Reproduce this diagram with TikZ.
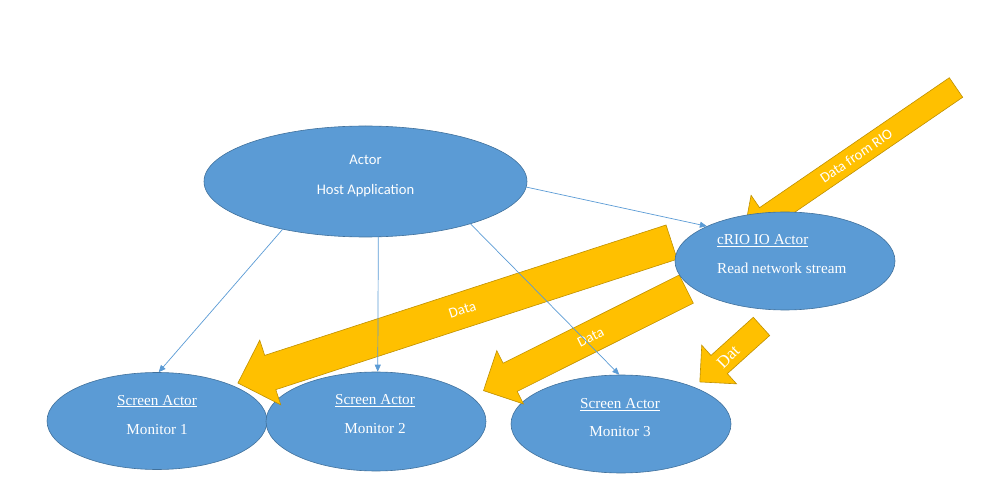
\documentclass[tikz,border=0pt]{standalone}
\usepackage{fontspec}
\setmainfont{Liberation Serif}
\newfontfamily\calibrifont{Carlito}
\usetikzlibrary{arrows.meta, shapes.geometric}
\definecolor{actorblue}{HTML}{5B9BD5}
\definecolor{actoredge}{HTML}{41719C}
\definecolor{datayellow}{HTML}{FFC000}
\definecolor{dataedge}{HTML}{BF9000}

\begin{document}
\begin{tikzpicture}[x=1pt, y=-1pt,
  actor/.style={ellipse, fill=actorblue, draw=actoredge, line width=0.6pt, inner sep=0pt},
  sanstxt/.style={font=\calibrifont\fontsize{14.6}{17}\selectfont, text=white, inner sep=0pt},
  serftxt/.style={font=\fontsize{15.2}{18}\selectfont, text=white, inner sep=0pt},
  link/.style={-{Triangle[length=7pt, width=6pt]}, actorblue, line width=0.7pt},
  bigarrow/.style={fill=datayellow, draw=dataedge, line width=0.6pt, line join=miter},
]
\useasboundingbox (0,0) rectangle (989,497);

% screen actors (bottom row)
\node[actor, minimum width=220pt, minimum height=97pt] (mon1) at (157,421) {};
\node[actor, minimum width=220pt, minimum height=99pt] (mon2) at (376,421.5) {};
\node[actor, minimum width=220pt, minimum height=98pt] (mon3) at (621,424) {};

% data from RIO
\begin{scope}[shift={(956,87.5)}, rotate=214.4]
  \draw[bigarrow] (0,-11.85) -- (230,-11.85) -- (230,-26.85) -- (256.85,0)
    -- (230,26.85) -- (230,11.85) -- (0,11.85) -- cycle;
  \node[sanstxt, rotate=34.4] (rioLbl) at (121,0) {Data from RIO};
\end{scope}

% data to monitor 1/2
\begin{scope}[shift={(671.6,242.1)}, rotate=198]
  \draw[bigarrow] (0,-18) -- (422,-18) -- (422,-34) -- (456,0)
    -- (422,34) -- (422,18) -- (0,18) -- cycle;
  \node[sanstxt, rotate=18] (dataLblA) at (220,0) {Data};
\end{scope}

% data to monitor 3
\begin{scope}[shift={(686.3,289.1)}, rotate=206.6]
  \draw[bigarrow] (0,-15.75) -- (197,-15.75) -- (197,-29.8) -- (226.8,0)
    -- (197,29.8) -- (197,15.75) -- (0,15.75) -- cycle;
  \node[sanstxt, rotate=26.6] (dataLblB) at (107,0) {Data};
\end{scope}

% short one
\begin{scope}[shift={(761.5,326.4)}, rotate=222]
  \draw[bigarrow] (0,-12.25) -- (57,-12.25) -- (57,-26) -- (83,0)
    -- (57,26) -- (57,12.25) -- (0,12.25) -- cycle;
  \node[serftxt, font=\fontsize{17}{20}\selectfont, rotate=45] (dataLblC) at (45,0) {Dat};
\end{scope}

% host and cRIO actors
\node[actor, minimum width=323pt, minimum height=111pt] (host) at (365.5,181.5) {};
\node[actor, minimum width=220pt, minimum height=98pt] (crio) at (785,261) {};

% labels
\node[sanstxt, anchor=base] (hostT) at (365.5,164.3) {Actor};
\node[sanstxt, anchor=base] (hostB) at (365.5,195) {Host Application};
\node[serftxt, anchor=base west] (crioT) at (717,245) {\underline{cRIO IO Actor}};
\node[serftxt, anchor=base west] (crioB) at (717,273.3) {Read network stream};
\node[serftxt, anchor=base] (mon1T) at (157,405) {\underline{Screen Actor}};
\node[serftxt, anchor=base] (mon1B) at (157,434) {Monitor 1};
\node[serftxt, anchor=base] (mon2T) at (375,404.3) {\underline{Screen Actor}};
\node[serftxt, anchor=base] (mon2B) at (375,433.3) {Monitor 2};
\node[serftxt, anchor=base] (mon3T) at (620,408.3) {\underline{Screen Actor}};
\node[serftxt, anchor=base] (mon3B) at (620,436.7) {Monitor 3};

% host links
\draw[link] (host.210) -- (mon1.88);
\draw[link] (host.-77) -- (mon2.88);
\draw[link] (host.-22) -- (mon3.92);
\draw[link] (host.-2) -- (crio.156);

\end{tikzpicture}
\end{document}
